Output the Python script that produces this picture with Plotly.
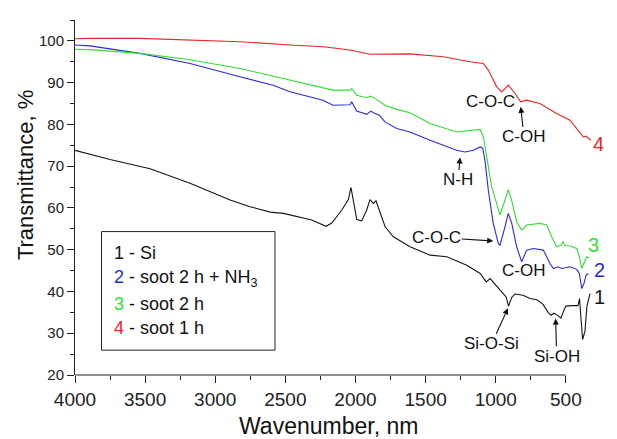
import plotly.graph_objects as go

# ---------------- data ----------------
si_x = [4000, 3750, 3465, 3180, 2894, 2752, 2609, 2514, 2312, 2210, 2169, 2098, 2051, 2032, 2020,
        1991, 1956, 1920, 1897, 1873, 1854, 1837, 1789, 1730, 1611, 1468, 1349, 1207, 1111, 1068,
        1040, 969, 926, 909, 886, 863, 806, 756, 706, 663, 627, 606, 585, 564, 535, 514, 500,
        457, 414, 403, 389, 381, 364, 350, 328]
si_y = [73.8, 71.6, 69.4, 65.9, 61.9, 60.3, 59.0, 58.7, 57.1, 55.6, 56.4, 59.5, 62.0, 64.9, 62.6,
        57.2, 56.9, 59.5, 62.0, 61.1, 61.7, 60.2, 55.5, 53.1, 50.7, 48.7, 48.3, 46.3, 44.3, 42.3,
        43.1, 40.3, 38.7, 36.5, 38.6, 39.4, 39.1, 38.3, 38.0, 36.9, 35.0, 34.3, 34.8, 34.4, 33.6, 35.5, 36.5,
        36.6, 36.6, 38.3, 33.0, 28.5, 30.5, 36.5, 39.5]

nh3_x = [4000, 3893, 3537, 3180, 2824, 2588, 2467, 2232, 2161, 2039, 2027, 1992, 1920, 1892, 1861,
         1830, 1790, 1706, 1612, 1469, 1279, 1219, 1160, 1112, 1093, 1077, 1053, 1018, 982, 970,
         934, 911, 886, 851, 815, 780, 732, 661, 613, 589, 554, 530, 471, 423, 404, 387, 371, 356, 340]
nh3_y = [99.0, 98.8, 97.0, 94.6, 91.4, 89.4, 87.8, 85.8, 84.6, 84.7, 85.4, 83.2, 82.4, 83.2, 82.6,
         82.2, 80.6, 79.0, 78.2, 76.2, 73.8, 73.4, 73.8, 74.6, 74.3, 71.4, 64.2, 56.3, 51.5, 51.1,
         55.5, 58.7, 56.3, 50.7, 47.1, 49.9, 50.3, 49.9, 46.7, 45.5, 45.9, 45.5, 45.9, 45.3, 44.3, 40.7, 41.9, 43.9, 44.3]

s2_x = [4000, 3893, 3537, 3180, 2824, 2467, 2161, 2039, 2027, 1992, 1920, 1892, 1850, 1790, 1706,
        1612, 1469, 1279, 1136, 1112, 1088, 1065, 1029, 994, 970, 934, 911, 886, 851, 815, 780,
        685, 637, 601, 566, 532, 520, 508, 471, 423, 404, 387, 371, 352, 333]
s2_y = [98.0, 97.9, 97.0, 95.5, 93.4, 90.6, 88.2, 88.2, 88.6, 87.0, 86.4, 86.8, 86.0, 84.6, 83.6,
        82.8, 80.2, 78.2, 78.6, 78.8, 77.0, 72.2, 65.0, 61.1, 58.3, 61.9, 64.4, 61.7, 56.7, 54.7, 55.9,
        56.3, 55.9, 53.1, 50.7, 51.1, 52.0, 51.0, 50.9, 50.3, 48.3, 45.5, 46.7, 48.3, 48.0]

s1_x = [4000, 3893, 3537, 3180, 2824, 2467, 2229, 2039, 1897, 1612, 1374, 1184, 1089, 1053, 993,
        958, 911, 863, 822, 780, 685, 566, 471, 376, 356, 323]
s1_y = [100.5, 100.6, 100.6, 100.2, 99.8, 99.0, 98.6, 97.8, 96.8, 96.9, 96.2, 95.0, 94.6, 93.0, 89.0,
        87.8, 89.4, 87.4, 85.4, 85.8, 85.0, 82.6, 81.0, 77.0, 77.2, 76.2]

x_major = [4000, 3500, 3000, 2500, 2000, 1500, 1000, 500]
y_major = [20, 30, 40, 50, 60, 70, 80, 90, 100]

BLACK = "#151515"
BLUE = "#2b2bd6"
GREEN = "#2fe02f"
RED = "#e82424"
FONT = "Arial, Liberation Sans, sans-serif"

fig = go.Figure()
for xs, ys, c in [(si_x, si_y, BLACK), (nh3_x, nh3_y, BLUE), (s2_x, s2_y, GREEN), (s1_x, s1_y, RED)]:
    fig.add_trace(go.Scatter(x=xs, y=ys, mode="lines", line=dict(color=c, width=1.1),
                             showlegend=False, hoverinfo="skip"))

fig.update_layout(
    width=617, height=439,
    margin=dict(l=75, r=26, t=20, b=64),
    paper_bgcolor="white", plot_bgcolor="white",
    font=dict(family=FONT, color="#222"),
    xaxis=dict(range=[4000, 321], tickmode="array", tickvals=x_major, ticks="outside", ticklen=7,
               tickwidth=1, tickcolor="#222", showline=False, showgrid=False, zeroline=False,
               tickfont=dict(size=19, family=FONT, color="#222"),
               minor=dict(dtick=250, tick0=500, ticks="outside", ticklen=4, tickcolor="#222"),
               automargin=False),
    yaxis=dict(range=[20, 105], tickmode="array", tickvals=y_major, ticks="outside", ticklen=7,
               tickwidth=1, tickcolor="#222", showline=True, linecolor="#222", linewidth=1,
               showgrid=False, zeroline=False,
               tickfont=dict(size=15, family=FONT, color="#222"),
               minor=dict(dtick=5, tick0=20, ticks="outside", ticklen=4, tickcolor="#222"),
               automargin=False),
)

# x axis line only up to 500
fig.add_shape(type="line", xref="x", yref="paper", x0=4000, x1=500, y0=0, y1=0,
              line=dict(color="#222", width=1))

# axis titles
fig.add_annotation(text="Wavenumber, nm", xref="paper", yref="paper", x=0.492, y=-0.145,
                   showarrow=False, font=dict(size=23, family=FONT, color="#111"),
                   xanchor="center", yanchor="middle")
fig.add_annotation(text="Transmittance, %", xref="paper", yref="paper", x=-0.097, y=0.563,
                   showarrow=False, textangle=-90, font=dict(size=22, family=FONT, color="#111"),
                   xanchor="center", yanchor="middle")

# legend box
fig.add_shape(type="rect", xref="paper", yref="paper", x0=0.0514, x1=0.3876, y0=0.070, y1=0.404,
              line=dict(color="#222", width=1), fillcolor="white", layer="above")
leg = [("1", BLACK, " - Si"), ("2", BLUE, " - soot 2 h + NH<sub>3</sub>"),
       ("3", GREEN, " - soot 2 h"), ("4", RED, " - soot 1 h")]
leg_y = [0.3424, 0.272, 0.1995, 0.131]
for (n, c, t), yy in zip(leg, leg_y):
    fig.add_annotation(text=f"<span style='color:{c}'>{n}</span>{t}", xref="paper", yref="paper",
                       x=0.072, y=yy, xanchor="left", yanchor="middle", showarrow=False,
                       font=dict(size=18, family=FONT, color="#111"))

# peak labels
def label(text, x, y, size=17, color="#111", ref="data"):
    r = ("x", "y") if ref == "data" else ("paper", "paper")
    fig.add_annotation(text=text, x=x, y=y, xref=r[0], yref=r[1], showarrow=False,
                       font=dict(size=size, family=FONT, color=color), xanchor="center", yanchor="middle")

def arrow_label(text, tip_x, tip_y, lab_x, lab_y, size=17):
    # text centred at (lab_x, lab_y); arrow from the text box to (tip_x, tip_y)
    fig.add_annotation(text=text, x=tip_x, y=tip_y, ax=lab_x, ay=lab_y,
                       xref="x", yref="y", axref="x", ayref="y", showarrow=True,
                       arrowhead=2, arrowsize=1.1, arrowwidth=1.1, arrowcolor="#111",
                       borderpad=0, standoff=0,
                       font=dict(size=size, family=FONT, color="#111"))

label("C-O-C", 1041, 85.4)
arrow_label("C-OH", 822, 84.2, 799, 77.0)
arrow_label("N-H", 1255, 72.1, 1267, 66.7)
arrow_label("C-O-C", 1018, 52.1, 1421, 52.9)
label("C-OH", 804, 45.1)
arrow_label("Si-O-Si", 913, 36.0, 1029, 27.5)
arrow_label("Si-OH", 573, 33.5, 566, 24.5)

# curve numbers (just right of the plot area)
label("3", 1.004, 0.366, size=20, color=GREEN, ref="paper")
label("2", 1.017, 0.295, size=20, color=BLUE, ref="paper")
label("1", 1.017, 0.220, size=20, color=BLACK, ref="paper")
label("4", 1.014, 0.650, size=20, color=RED, ref="paper")

fig.write_html("out.html")
